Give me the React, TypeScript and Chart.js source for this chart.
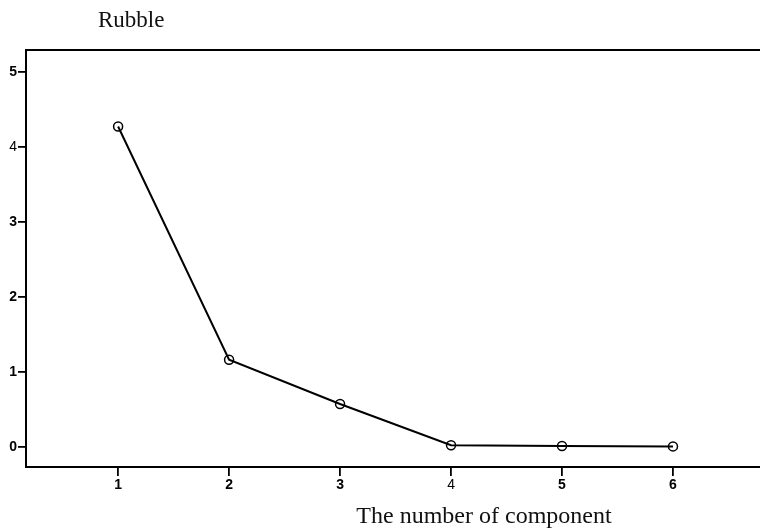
import React, { useEffect, useRef } from "react";
import { Chart, registerables } from "chart.js";

Chart.register(...registerables);

const components = [1, 2, 3, 4, 5, 6];
const eigenvalues = [4.27, 1.16, 0.57, 0.02, 0.01, 0.005];
const yTicks = [0, 1, 2, 3, 4, 5];
const titleText = "Rubble";
const xTitleText = "The number of component";

const textPlugin = {
  id: "texts",
  afterDraw(chart: any) {
    const { ctx, chartArea } = chart;
    ctx.save();
    ctx.strokeStyle = "#000";
    ctx.lineWidth = 2;
    ctx.beginPath();
    ctx.moveTo(chartArea.left - 1, chartArea.top);
    ctx.lineTo(chart.width, chartArea.top);
    ctx.moveTo(chartArea.left - 1, chartArea.bottom);
    ctx.lineTo(chart.width, chartArea.bottom);
    ctx.stroke();
    ctx.fillStyle = "#111";
    ctx.font = "23px 'Liberation Serif', 'DejaVu Serif', serif";
    ctx.textAlign = "left";
    ctx.textBaseline = "alphabetic";
    ctx.fillText(titleText, 98, 27);
    ctx.font = "24px 'Liberation Serif', 'DejaVu Serif', serif";
    ctx.textAlign = "center";
    ctx.fillText(xTitleText, 484, 523);
    ctx.restore();
  },
};

export default function App() {
  const ref = useRef<HTMLCanvasElement>(null);
  useEffect(() => {
    if (!ref.current) return;
    const tickFont = (c: any) => ({
      family: "'Liberation Sans', Arial, sans-serif",
      size: 14,
      weight: c.tick && c.tick.value === 4 ? "normal" : "bold",
    });
    const chart = new Chart(ref.current, {
      type: "line",
      data: {
        datasets: [
          {
            data: components.map((c, i) => ({ x: c, y: eigenvalues[i] })),
            borderColor: "#000",
            borderWidth: 2,
            pointRadius: 4.5,
            pointBackgroundColor: "rgba(0,0,0,0)",
            pointBorderColor: "#000",
            pointBorderWidth: 1.5,
            tension: 0,
          },
        ],
      },
      options: {
        animation: false,
        responsive: false,
        maintainAspectRatio: false,
        layout: { padding: { top: 50, left: 0, right: 0, bottom: 0 } },
        plugins: { legend: { display: false }, tooltip: { enabled: false }, title: { display: false } },
        scales: {
          x: {
            type: "linear",
            min: 0.17,
            max: 6.73,
            afterBuildTicks: (s: any) => {
              s.ticks = components.map((v) => ({ value: v }));
            },
            afterFit: (s: any) => {
              s.height = 61;
            },
            grid: { display: true, drawOnChartArea: false, tickLength: 9, color: "#000", lineWidth: 1.8 },
            border: { display: false },
            ticks: { color: "#000", font: tickFont, padding: 1, maxRotation: 0 },
          },
          y: {
            type: "linear",
            min: -0.27,
            max: 5.29,
            afterBuildTicks: (s: any) => {
              s.ticks = yTicks.map((v) => ({ value: v }));
            },
            afterFit: (s: any) => {
              s.width = 26;
            },
            grid: { display: true, drawOnChartArea: false, tickLength: 8, color: "#000", lineWidth: 1.8 },
            border: { display: true, color: "#000", width: 2 },
            ticks: { color: "#000", font: tickFont, padding: 1 },
          },
        },
      },
      plugins: [textPlugin],
    });
    return () => chart.destroy();
  }, []);
  return (
    <div style={{ position: "fixed", left: 0, top: 0, width: 760, height: 528, background: "#fff" }}>
      <canvas ref={ref} width={760} height={528} style={{ width: 760, height: 528 }} />
    </div>
  );
}
